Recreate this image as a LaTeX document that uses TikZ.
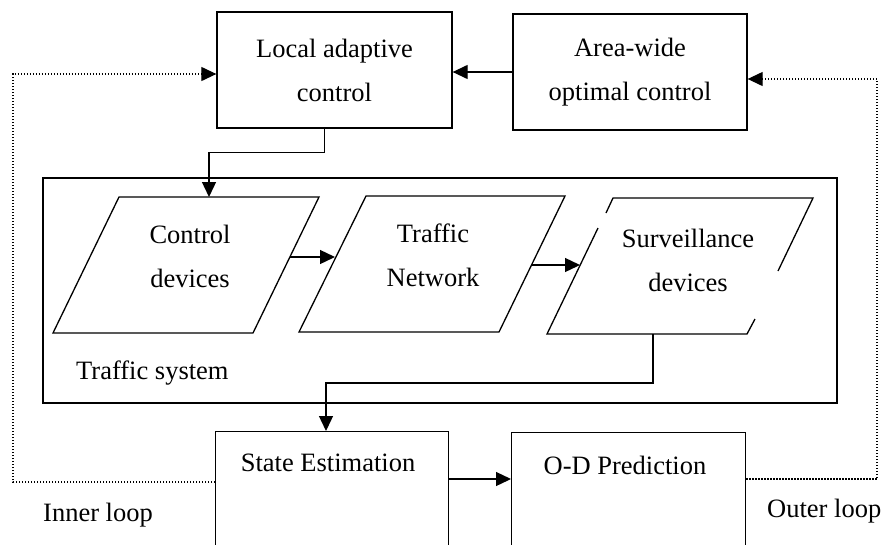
\documentclass[tikz,border=0pt]{standalone}
\usepackage{fontspec}
\setmainfont{Liberation Serif}
\usetikzlibrary{arrows.meta,calc}
\begin{document}
\begin{tikzpicture}[x=1pt,y=-1pt,
  box/.style={draw,line width=1.3pt,rectangle,inner sep=0pt},
  lbl/.style={font=\fontsize{26.5}{44}\selectfont,align=center,inner sep=0pt},
  arr/.style={line width=1.3pt,-{Triangle[length=15pt,width=14pt]}},
  fbloop/.style={line width=1.2pt,dash pattern=on 1.2pt off 1.8pt,-{Triangle[length=15pt,width=14pt]}},
  outline/.style={line width=1.3pt,line join=miter}
]
\useasboundingbox (0,0) rectangle (882,544);

% controllers
\node[box,lbl,minimum width=235pt,minimum height=116pt] (local) at (334.5,70) {Local adaptive\\control};
\node[box,lbl,minimum width=234pt,minimum height=116pt] (area) at (630,72) {Area-wide\\optimal control};

% traffic system frame
\node[box,minimum width=794pt,minimum height=225pt] (sys) at (440,290.5) {};
\node[lbl,anchor=west] (systxt) at (76,373) {Traffic system};

% control devices
\draw[outline] (53,333) -- (253,333) -- (319,197) -- (119,197) -- cycle;
\node[lbl] (ctrl) at (190,256) {Control\\devices};
\coordinate (ctrlT) at (209,197);
\coordinate (ctrlR) at (290,257);

% traffic network
\draw[outline] (299,332) -- (499,332) -- (565,196) -- (366,196) -- cycle;
\node[lbl] (net) at (433,255) {Traffic\\Network};
\coordinate (netL) at (335,257);
\coordinate (netR) at (532,265);

% surveillance devices (outline with gaps)
\draw[outline] (606,213) -- (613,198) -- (813,198) -- (778,271);
\draw[outline] (755,319) -- (747,334) -- (547,334) -- (598,228);
\node[lbl] (surv) at (688,260) {Surveillance\\devices};
\coordinate (survL) at (580,265);
\coordinate (survB) at (653,334);

% estimation and prediction
\node[box,minimum width=233pt,minimum height=140pt,anchor=north west] (state) at (215,431) {};
\node[lbl] (statetxt) at (328,463) {State Estimation};
\node[box,minimum width=234pt,minimum height=140pt,anchor=north west] (od) at (511,432) {};
\node[lbl] (odtxt) at (625,465) {O-D Prediction};

\node[lbl,anchor=west] (inner) at (43,515) {Inner loop};
\node[lbl,anchor=west] (outer) at (767,511) {Outer loop};

% solid connectors
\draw[arr] (area.west) -- (area.west -| local.east);
\draw[arr] ($(local.south west)+(108,0)$) -- ++(0,24) -| (ctrlT);
\draw[arr] (ctrlR) -- (netL);
\draw[arr] (netR) -- (survL);
\draw[arr] (survB) -- (653,383) -| ($(state.north west)+(111,0)$);
\draw[arr] (state.east |- 0,479) -- (od.west |- 0,479);

% feedback loops
\coordinate (innerC) at (13,74);
\coordinate (outerC) at (877,79);
\draw[fbloop] (state.west |- 0,482) -| (innerC) -- (local.west |- innerC);
\draw[fbloop] (od.east |- 0,479) -| (outerC) -- (area.east |- outerC);
\end{tikzpicture}
\end{document}
